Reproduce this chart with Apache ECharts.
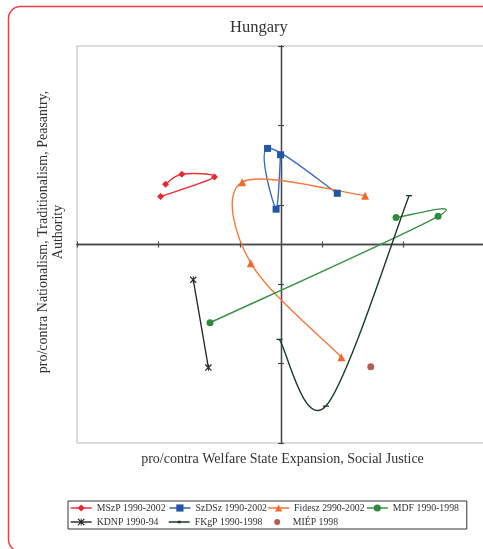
<!DOCTYPE html>
<html><head><meta charset="utf-8">
<script src="https://cdn.jsdelivr.net/npm/echarts@6/dist/echarts.min.js"></script>
<style>html,body{margin:0;padding:0;background:#fff}#c{width:483px;height:549px}</style>
</head><body><div id="c"></div>
<script>
// ---- data (x: welfare state / social justice, y: nationalism / tradition) ----
const axisMin = -5, axisMax = 5, tickStep = 2;
const mszp   = [[-2.83, 1.52], [-2.43, 1.77], [-1.63, 1.70], [-2.95, 1.21]];
const szdsz  = [[1.38, 1.29], [-0.33, 2.42], [-0.12, 0.89], [-0.01, 2.26]];
const fidesz = [[2.06, 1.23], [-0.95, 1.57], [-0.74, -0.47], [1.48, -2.84]];
const mdf    = [[2.82, 0.68], [3.85, 0.71], [-1.74, -1.97]];
const kdnp   = [[-2.15, -0.89], [-1.78, -3.10]];
const fkgp   = [[-0.04, -2.39], [1.10, -4.07], [3.14, 1.23]];
const miep   = [[2.20, -3.08]];
const names = ['MSzP 1990-2002', 'SzDSz 1990-2002', 'Fidesz 2990-2002', 'MDF 1990-1998',
               'KDNP 1990-94', 'FKgP 1990-1998', 'MIÉP 1998'];

const FONT = 'Liberation Serif';
const starPath = 'path://M0,1.2L1.2,0L10,8.8L8.8,10Z M8.8,0L10,1.2L1.2,10L0,8.8Z M4.4,0L5.6,0L5.6,10L4.4,10Z';
const dashPath = 'path://M0,0L10,0L10,2.2L0,2.2Z';
// legend icons (corner specks keep the 21x9 bounding box so the shape is not stretched)
const fkgpIcon = 'path://M0,0L0.05,0L0,0.05Z M0,3.8L21,3.8L21,5.2L0,5.2Z M9,3.2L12,3.2L12,5.8L9,5.8Z M20.95,9L21,9L21,8.95Z';
const miepIcon = 'path://M0,0L0.05,0L0,0.05Z M10.5,1.5A3,3 0 1 1 10.49,1.5Z M20.95,9L21,9L21,8.95Z';

function curve(name, pts, color, width) {
  return {
    type: 'custom', name: name + ' (curve)', data: pts, encode: {x: 0, y: 1}, z: 2, silent: true,
    renderItem: function (params, api) {
      const i = params.dataIndex;
      if (i >= pts.length - 1) return null;
      const P = k => api.coord(pts[Math.max(0, Math.min(pts.length - 1, k))]);
      const p0 = P(i - 1), p1 = P(i), p2 = P(i + 1), p3 = P(i + 2);
      return {
        type: 'bezierCurve',
        shape: {
          x1: p1[0], y1: p1[1],
          cpx1: p1[0] + (p2[0] - p0[0]) / 6, cpy1: p1[1] + (p2[1] - p0[1]) / 6,
          cpx2: p2[0] - (p3[0] - p1[0]) / 6, cpy2: p2[1] - (p3[1] - p1[1]) / 6,
          x2: p2[0], y2: p2[1]
        },
        style: {fill: 'none', stroke: color, lineWidth: width}
      };
    }
  };
}
function markers(name, pts, symbol, size, color, extra) {
  return Object.assign({
    type: 'line', name: name, data: pts, symbol: symbol, symbolSize: size, showSymbol: true,
    lineStyle: {opacity: 0, color: color, width: 1.4}, itemStyle: {color: color},
    z: 3, emphasis: {disabled: true}, animation: false
  }, extra || {});
}

const axisCommon = {type: 'value', min: axisMin, max: axisMax, interval: tickStep,
  splitLine: {show: false}, axisLabel: {show: false}};
const axLine = {color: '#4a4a4a', width: 1.3};
const axTick = {show: true, inside: false, length: 3, lineStyle: {color: '#4a4a4a', width: 1.2}};

const legendData = names.map((n, i) => {
  if (i === 6) return {name: n, icon: miepIcon, itemStyle: {color: '#9c3527'}};
  if (i === 5) return {name: n, icon: fkgpIcon, itemStyle: {color: '#1f3a26'}};
  return {name: n, lineStyle: {opacity: 1, width: 1.4}};
});

const chart = echarts.init(document.getElementById('c'), null, {renderer: 'canvas'});
chart.setOption({
  animation: false,
  title: {text: 'Hungary', left: 230, top: 19, padding: 0,
    textStyle: {fontFamily: FONT, fontSize: 16.5, fontWeight: 'normal', color: '#333'}},
  grid: {left: 77, top: 46, width: 408, height: 397, show: true, borderColor: '#b8b8b8', borderWidth: 1,
    containLabel: false, outerBoundsMode: 'none'},
  xAxis: [
    Object.assign({}, axisCommon, {position: 'bottom', axisLine: {show: true, onZero: true, onZeroAxisIndex: 0, lineStyle: axLine}, axisTick: axTick}),
    Object.assign({}, axisCommon, {position: 'top', axisLine: {show: true, onZero: true, onZeroAxisIndex: 1, lineStyle: axLine}, axisTick: axTick})
  ],
  yAxis: [
    Object.assign({}, axisCommon, {position: 'left', axisLine: {show: true, onZero: true, onZeroAxisIndex: 0, lineStyle: axLine}, axisTick: axTick}),
    Object.assign({}, axisCommon, {position: 'right', axisLine: {show: true, onZero: true, onZeroAxisIndex: 1, lineStyle: axLine}, axisTick: axTick})
  ],
  legend: {
    data: legendData,
    left: 68, top: 501, width: 440, itemWidth: 21, itemHeight: 9, itemGap: 0,
    padding: [0, 2, 0, 2], borderColor: '#333', borderWidth: 1, selectedMode: false,
    textStyle: {fontFamily: FONT, fontSize: 9.8, color: '#333', width: 72, lineHeight: 14, overflow: 'none'}
  },
  graphic: [
    {type: 'rect', silent: true, z: -10, shape: {x: 8.5, y: 6.5, width: 500, height: 545, r: 12},
      style: {fill: 'none', stroke: '#ef3d45', lineWidth: 1.5}},
    {type: 'text', x: 282.5, y: 459.5, silent: true,
      style: {text: 'pro/contra Welfare State Expansion, Social Justice', font: '14px "' + FONT + '"', fill: '#333',
        align: 'center', verticalAlign: 'middle', textAlign: 'center', textVerticalAlign: 'middle'}},
    {type: 'text', x: 51, y: 232, rotation: Math.PI / 2, silent: true,
      style: {text: 'pro/contra Nationalism, Traditionalism, Peasantry,\nAuthority', font: '14px "' + FONT + '"', fill: '#333',
        lineHeight: 15, textLineHeight: 15,
        align: 'center', verticalAlign: 'middle', textAlign: 'center', textVerticalAlign: 'middle'}}
  ],
  series: [
    curve(names[0], mszp, '#ee2f38', 1.4),
    curve(names[1], szdsz, '#3a6cc0', 1.4),
    curve(names[2], fidesz, '#f47a3c', 1.4),
    curve(names[3], mdf, '#3a9148', 1.4),
    curve(names[4], kdnp, '#222222', 1.3),
    curve(names[5], fkgp, '#1f3a26', 1.4),
    markers(names[0], mszp, 'diamond', 7, '#ec2630'),
    markers(names[1], szdsz, 'rect', 7, '#2456a8'),
    markers(names[2], fidesz, 'triangle', 8, '#f26a2c'),
    markers(names[3], mdf, 'circle', 7, '#2e8b3e'),
    markers(names[4], kdnp, starPath, 7, '#222222'),
    markers(names[5], fkgp, dashPath, 6, '#1f3a26', {symbolKeepAspect: true}),
    {type: 'scatter', name: names[6], data: miep, symbol: 'circle', symbolSize: 7,
      itemStyle: {color: '#9c3527'}, z: 3, emphasis: {disabled: true}}
  ]
});
</script>
</body></html>
